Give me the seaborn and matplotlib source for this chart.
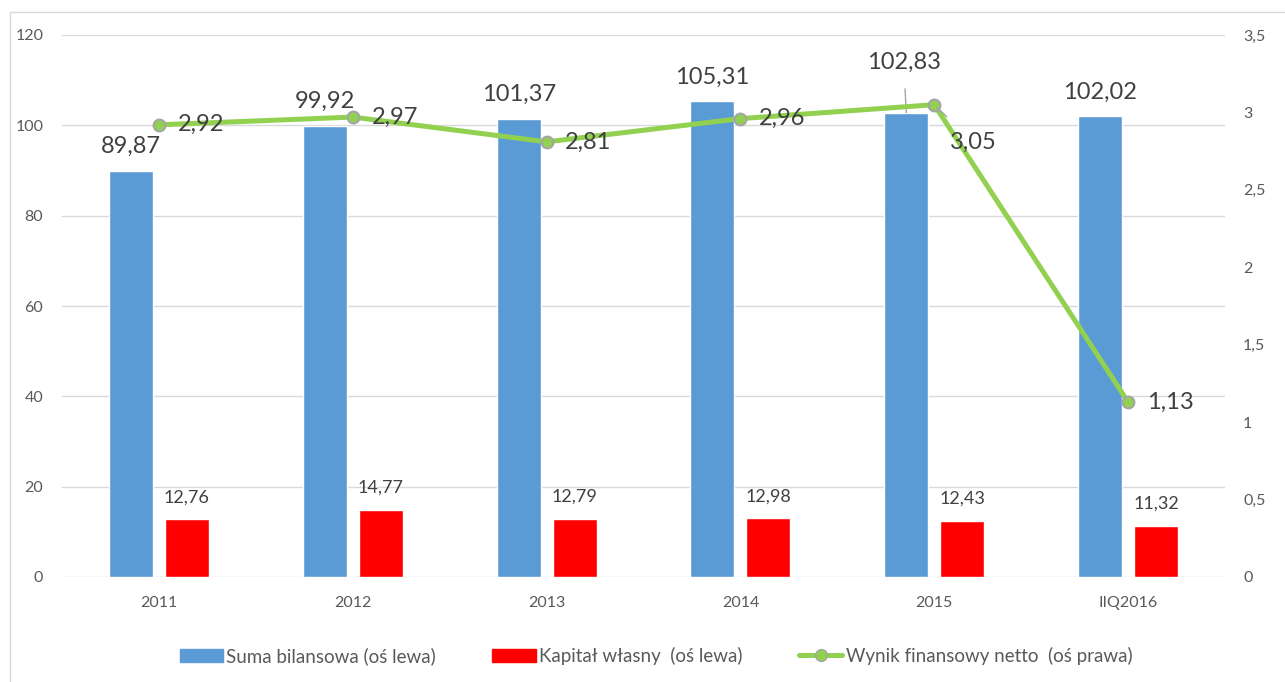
import matplotlib
matplotlib.use("Agg")
import matplotlib.pyplot as plt
import matplotlib.patches as mpatches
from matplotlib.lines import Line2D
from matplotlib.ticker import FuncFormatter, MultipleLocator
import seaborn as sns
import pandas as pd

sns.set_style("white")
plt.rcParams["font.family"] = ["Lato", "DejaVu Sans"]

years = ["2011", "2012", "2013", "2014", "2015", "IIQ2016"]
suma_bilansowa = [89.87, 99.92, 101.37, 105.31, 102.83, 102.02]
kapital_wlasny = [12.76, 14.77, 12.79, 12.98, 12.43, 11.32]
wynik_netto = [2.92, 2.97, 2.81, 2.96, 3.05, 1.13]

series_names = ["Suma bilansowa (oś lewa)", "Kapitał własny  (oś lewa)", "Wynik finansowy netto  (oś prawa)"]

BLUE = "#5B9BD5"
RED = "#FF0000"
GREEN = "#92D050"
GRID = "#D9D9D9"
LABEL = "#404040"
TICK = "#595959"


def pl(v, fmt="{:.2f}"):
    return fmt.format(v).replace(".", ",")


df = pd.DataFrame({
    "Rok": years * 2,
    "Wartość": suma_bilansowa + kapital_wlasny,
    "Seria": [series_names[0]] * len(years) + [series_names[1]] * len(years),
})

fig = plt.figure(figsize=(12.85, 6.82), dpi=100)
ax = fig.add_axes([62 / 1285, 105 / 682, 1163 / 1285, 542 / 682])

sns.barplot(data=df, x="Rok", y="Wartość", hue="Seria", palette=[BLUE, RED],
            width=0.577, gap=0.214, saturation=1, legend=False, ax=ax)
ax.set_xlim(-0.5, len(years) - 0.5)
ax.set_ylim(0, 120)
ax.yaxis.set_major_locator(MultipleLocator(20))
ax.grid(axis="y", color=GRID, linewidth=1)
ax.set_axisbelow(True)
ax.set_xlabel("")
ax.set_ylabel("")
for s in ax.spines.values():
    s.set_visible(False)
ax.tick_params(axis="y", length=0, pad=13.5, labelsize=11.5, labelcolor=TICK)
ax.tick_params(axis="x", length=0, pad=14, labelsize=11.5, labelcolor=TICK)

ax2 = ax.twinx()
sns.lineplot(x=years, y=wynik_netto, sort=False, color=GREEN, linewidth=3.6,
             marker="o", markersize=8.5, markerfacecolor=GREEN,
             markeredgecolor="#A5A5A5", markeredgewidth=1.5, ax=ax2)
ax2.set_ylim(0, 3.5)
ax2.yaxis.set_major_locator(MultipleLocator(0.5))
ax2.yaxis.set_major_formatter(FuncFormatter(lambda v, p: f"{v:g}".replace(".", ",")))
ax2.tick_params(axis="y", length=0, pad=13, labelsize=11.5, labelcolor=TICK)
ax2.set_ylabel("")
for s in ax2.spines.values():
    s.set_visible(False)
ax2.set_xlim(-0.5, len(years) - 0.5)

# value labels
blue_off, red_off = -0.144, 0.144
for i, (b, r, w) in enumerate(zip(suma_bilansowa, kapital_wlasny, wynik_netto)):
    if years[i] == "2015":
        ax.annotate(pl(b), xy=(i + blue_off, b), xytext=(-2, 36), textcoords="offset points",
                    ha="center", va="center", fontsize=17, color=LABEL,
                    arrowprops=dict(arrowstyle="-", color="#A5A5A5", lw=1, shrinkA=9, shrinkB=0))
        ax2.annotate(pl(w), xy=(i, w), xytext=(28, -27), textcoords="offset points",
                     ha="center", va="center", fontsize=17, color=LABEL,
                     arrowprops=dict(arrowstyle="-", color="#A5A5A5", lw=1, shrinkA=12, shrinkB=3))
    else:
        ax.annotate(pl(b), xy=(i + blue_off, b), xytext=(0, 17.5), textcoords="offset points",
                    ha="center", va="center", fontsize=17, color=LABEL)
        ax2.annotate(pl(w), xy=(i, w), xytext=(13.5, 0), textcoords="offset points",
                     ha="left", va="center", fontsize=17, color=LABEL)
    ax.annotate(pl(r), xy=(i + red_off, r), xytext=(0, 16), textcoords="offset points",
                ha="center", va="center", fontsize=13, color=LABEL)

# legend
handles = [
    mpatches.Patch(color=BLUE, label=series_names[0]),
    mpatches.Patch(color=RED, label=series_names[1]),
    Line2D([0], [0], color=GREEN, linewidth=3.6, marker="o", markersize=8.5,
           markerfacecolor=GREEN, markeredgecolor="#A5A5A5", label=series_names[2]),
]
fig.legend(handles=handles, loc="center", bbox_to_anchor=(656 / 1285, 26 / 682), ncol=3,
           frameon=False, fontsize=13.5, handlelength=2.3, handleheight=0.75,
           handletextpad=0.2, columnspacing=3.0, labelcolor=TICK)

# outer chart border
fig.patches.append(mpatches.Rectangle((10 / 1285, -0.05), 1.2, (682 - 12) / 682 + 0.05,
                                      transform=fig.transFigure, fill=False,
                                      edgecolor=GRID, linewidth=1))

fig.savefig("out.png", dpi=100)
